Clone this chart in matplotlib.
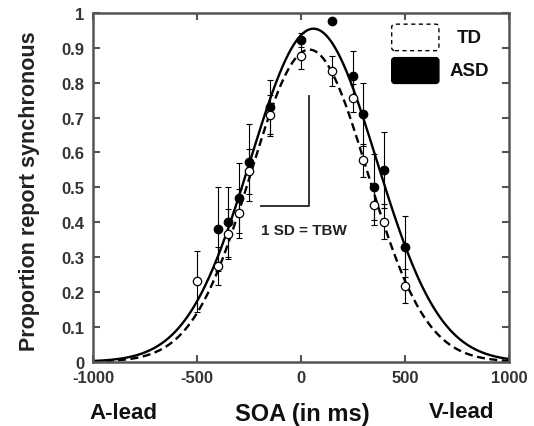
import numpy as np
import matplotlib
matplotlib.use("Agg")
import matplotlib.pyplot as plt
from matplotlib.patches import FancyBboxPatch

plt.rcParams['font.family'] = ['Liberation Sans', 'DejaVu Sans']
plt.rcParams['font.weight'] = 'bold'

# ---- data ----
soa = [-500, -400, -350, -300, -250, -150, 0, 150, 250, 300, 350, 400, 500]
td_vals = [0.23, 0.275, 0.366, 0.426, 0.546, 0.707, 0.878, 0.835, 0.756, 0.578, 0.449, 0.402, 0.217]
td_err = [0.087, 0.055, 0.072, 0.07, 0.065, 0.059, 0.04, 0.043, 0.04, 0.047, 0.057, 0.05, 0.05]

asd_soa = [-400, -350, -300, -250, -150, 0, 150, 250, 300, 350, 400, 500]
asd_vals = [0.38, 0.40, 0.47, 0.572, 0.73, 0.923, 0.977, 0.82, 0.71, 0.50, 0.55, 0.33]
asd_err = [0.12, 0.10, 0.10, 0.11, 0.078, 0.02, 0.0, 0.07, 0.09, 0.095, 0.11, 0.087]

# Gaussian fit parameters (amplitude, mean, sd)
td_fit = [0.895, 40, 280]
asd_fit = [0.955, 60, 303]

# TBW annotation (x positions, y positions)
tbw_x = [-194, 38.5, 38.5]
tbw_y = [0.447, 0.447, 0.762]

xticks = [-1000, -500, 0, 500, 1000]
yticks = [0, 0.1, 0.2, 0.3, 0.4, 0.5, 0.6, 0.7, 0.8, 0.9, 1]
yticklabels = ['0', '0.1', '0.2', '0.3', '0.4', '0.5', '0.6', '0.7', '0.8', '0.9', '1']

fig = plt.figure(figsize=(5.34, 4.27), dpi=100)
ax = fig.add_axes([93/534, 1-362.7/427, 416/534, 348.7/427])

xs = np.linspace(-1000, 1000, 801)
def gauss(p, x):
    return p[0]*np.exp(-(x-p[1])**2/(2*p[2]**2))

ax.plot(xs, gauss(asd_fit, xs), color='black', lw=1.7, solid_capstyle='butt', zorder=2)
ax.plot(xs, gauss(td_fit, xs), color='black', lw=1.7, ls=(0, (3.4, 1.9)), zorder=2)

ax.errorbar(asd_soa, asd_vals, yerr=asd_err, fmt='none', ecolor='black', elinewidth=0.8, capsize=2.5, capthick=0.8, zorder=3)
ax.errorbar(soa, td_vals, yerr=td_err, fmt='none', ecolor='black', elinewidth=0.8, capsize=2.5, capthick=0.8, zorder=3)
ax.plot(asd_soa, asd_vals, 'o', color='black', ms=6, zorder=4)
ax.plot(soa, td_vals, 'o', mfc='white', mec='black', mew=0.9, ms=6, zorder=5)

ax.plot(tbw_x, tbw_y, color='#222222', lw=1.3, zorder=2)
ax.text(-190, 0.378, '1 SD = TBW', fontsize=11, fontweight='bold', color='#222222', ha='left', va='center')

# legend boxes
asp = (3/348.7)/15
ax.add_patch(FancyBboxPatch((436, 0.892), 227, 0.076, boxstyle='round,pad=0,rounding_size=15',
                            mutation_aspect=asp, fc='white', ec='black', lw=1.0, ls=(0, (3, 2.5)), zorder=6))
ax.add_patch(FancyBboxPatch((436, 0.798), 227, 0.074, boxstyle='round,pad=0,rounding_size=15',
                            mutation_aspect=asp, fc='black', ec='black', lw=1.0, zorder=6))
ax.text(748, 0.931, 'TD', fontsize=13.5, fontweight='bold', ha='left', va='center', color='#111111')
ax.text(712, 0.835, 'ASD', fontsize=13.5, fontweight='bold', ha='left', va='center', color='#111111')

ax.set_xlim(-1000, 1000)
ax.set_ylim(0, 1)
ax.set_xticks(xticks)
ax.set_xticklabels([str(t) for t in xticks])
ax.set_yticks(yticks)
ax.set_yticklabels(yticklabels)
ax.tick_params(direction='in', length=5, width=1.5, color='#555555', top=True, right=True,
               labelsize=12, labelcolor='#333333')
ax.tick_params(axis='x', pad=6)
ax.tick_params(axis='y', pad=6)
for lab in ax.get_xticklabels() + ax.get_yticklabels():
    lab.set_fontweight('bold')
for s in ax.spines.values():
    s.set_linewidth(1.8)
    s.set_color('#555555')

fig.text(30/534, 1-191/427, 'Proportion report synchronous', rotation=90, fontsize=15.5,
         fontweight='bold', ha='center', va='center', color='#222222')
fig.text(302/534, 1-415/427, 'SOA (in ms)', fontsize=17, fontweight='bold', ha='center', va='center', color='#111111')
fig.text(123/534, 1-414/427, 'A-lead', fontsize=16, fontweight='bold', ha='center', va='center', color='#111111')
fig.text(462/534, 1-413/427, 'V-lead', fontsize=16, fontweight='bold', ha='center', va='center', color='#111111')

fig.savefig('out.png', dpi=100)
